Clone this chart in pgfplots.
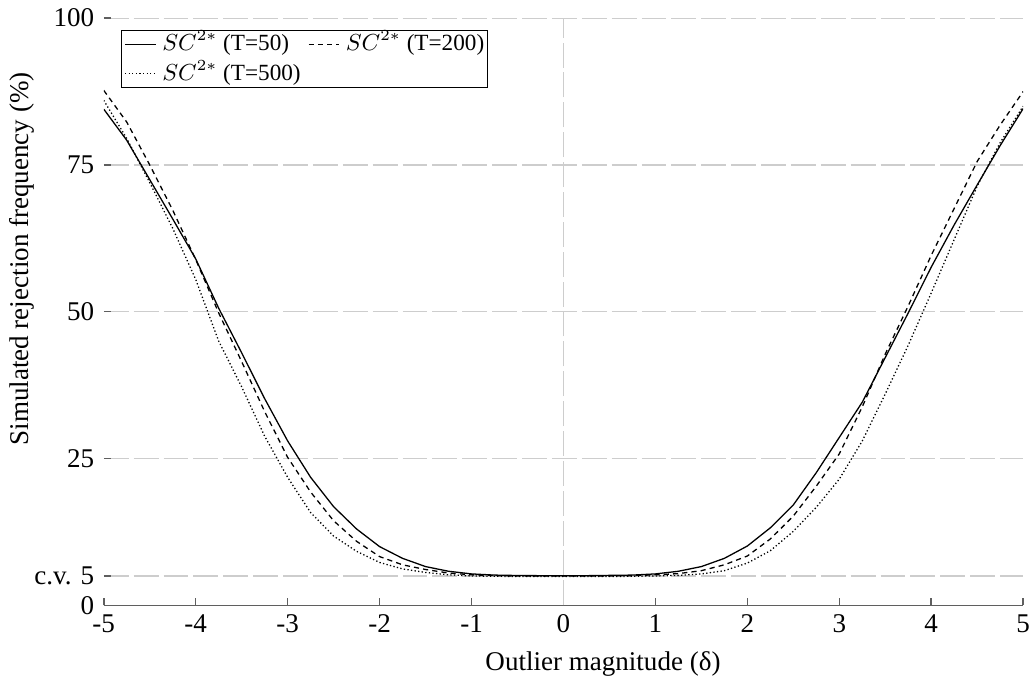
\documentclass[border=0pt]{standalone}
\usepackage{fontspec}
\setmainfont{Liberation Serif}
\usepackage{pgfplots}
\pgfplotsset{compat=1.18}
\definecolor{gridgray}{RGB}{205,205,205}
\definecolor{axgray}{RGB}{95,95,95}
\pgfplotstableread{
x s50 s200 s500
-5 84.5 87.7 86.0
-4.75 79.2 82.3 79.5
-4.5 72.5 75.0 72.0
-4.25 65.8 67.3 64.2
-4 59.0 58.9 55.5
-3.75 50.6 49.8 45.0
-3.5 43.0 41.5 37.2
-3.25 35.2 33.0 28.8
-3 28.0 25.2 21.8
-2.75 21.8 19.3 15.8
-2.5 16.8 14.4 11.8
-2.25 13.0 10.9 9.2
-2 10.0 8.3 7.3
-1.75 8.0 6.9 6.2
-1.5 6.6 6.1 5.6
-1.25 5.8 5.5 5.2
-1 5.35 5.2 5.0
-0.75 5.15 5.05 4.95
-0.5 5.08 5.0 4.9
-0.25 5.05 5.0 4.9
0 5.05 5.0 4.9
0.25 5.05 5.0 4.9
0.5 5.1 5.0 4.9
0.75 5.15 5.05 4.95
1 5.35 5.2 5.0
1.25 5.8 5.4 5.1
1.5 6.6 5.9 5.35
1.75 8.0 6.9 5.9
2 10.1 8.4 7.2
2.25 13.2 11.3 9.3
2.5 17.1 15.2 12.6
2.75 22.6 20.3 16.7
3 28.6 25.8 21.5
3.25 34.6 33.8 28.0
3.5 42.2 42.8 36.0
3.75 49.8 51.0 44.3
4 57.6 59.6 53.2
4.25 64.8 67.6 62.3
4.5 71.6 75.6 71.4
4.75 78.3 81.8 78.8
5 84.6 87.5 85.0
}\datatable
\begin{document}
\fontsize{10.5}{12.5}\selectfont
\begin{tikzpicture}
\begin{axis}[
  scale only axis,
  width=357pt, height=228pt,
  xmin=-5, xmax=5, ymin=0, ymax=100,
  axis x line*=bottom, axis y line*=left,
  y axis line style={draw=none},
  x axis line style={draw=axgray, line width=0.6pt},
  tick align=inside,
  major tick length=2.8pt,
  tick style={draw=axgray, line width=0.6pt},
  xtick={-5,-4,-3,-2,-1,0,1,2,3,4,5},
  xticklabels={-5,-4,-3,-2,-1,0,1,2,3,4,5},
  xticklabel style={inner xsep=0.8pt},
  ytick={0,5,25,50,75,100},
  yticklabels={0,{c.v. 5},25,50,75,100},
  /pgf/number format/assume math mode=true,
  ticklabel style={font=\fontsize{10.5}{12.5}\selectfont},
  ymajorgrids,
  grid style={draw=gridgray, line width=0.45pt, dash pattern=on 9.7pt off 1.9pt},
  xlabel={Outlier magnitude (δ)},
  ylabel={Simulated rejection frequency (\%)},
  label style={font=\fontsize{10.5}{12.5}\selectfont},
  xlabel style={at={(ticklabel cs:0.543)}},
  ylabel style={at={(ticklabel cs:0.59,-7pt)}},
  legend columns=2,
  legend cell align=left,
  legend image code/.code={\draw[#1] (0cm,0cm) -- (0.42cm,0cm);},
  legend style={at={(0.019,0.98)}, anchor=north west, draw=black, line width=0.4pt,
    font=\fontsize{9}{10}\selectfont, inner sep=1pt, row sep=2.6pt,
    nodes={inner sep=0.3pt, text height=6.6pt, text depth=1.6pt},
    /tikz/every even column/.append style={column sep=2.5pt},
    /tikz/every odd column/.append style={column sep=2pt}},
]
\addplot[draw=gridgray, line width=0.45pt, dash pattern=on 9.7pt off 1.9pt, forget plot] coordinates {(0,0) (0,100)};
\addplot[black, line width=0.5pt] table[x=x, y=s50] {\datatable};
\addlegendentry{$SC^{2*}$ (T=50)}
\addplot[black, line width=0.5pt, dash pattern=on 2pt off 1.6pt] table[x=x, y=s200] {\datatable};
\addlegendentry{$SC^{2*}$ (T=200)}
\addplot[black, line width=0.5pt, dash pattern=on 0.5pt off 0.9pt] table[x=x, y=s500] {\datatable};
\addlegendentry{$SC^{2*}$ (T=500)}
\end{axis}
\end{tikzpicture}
\end{document}
